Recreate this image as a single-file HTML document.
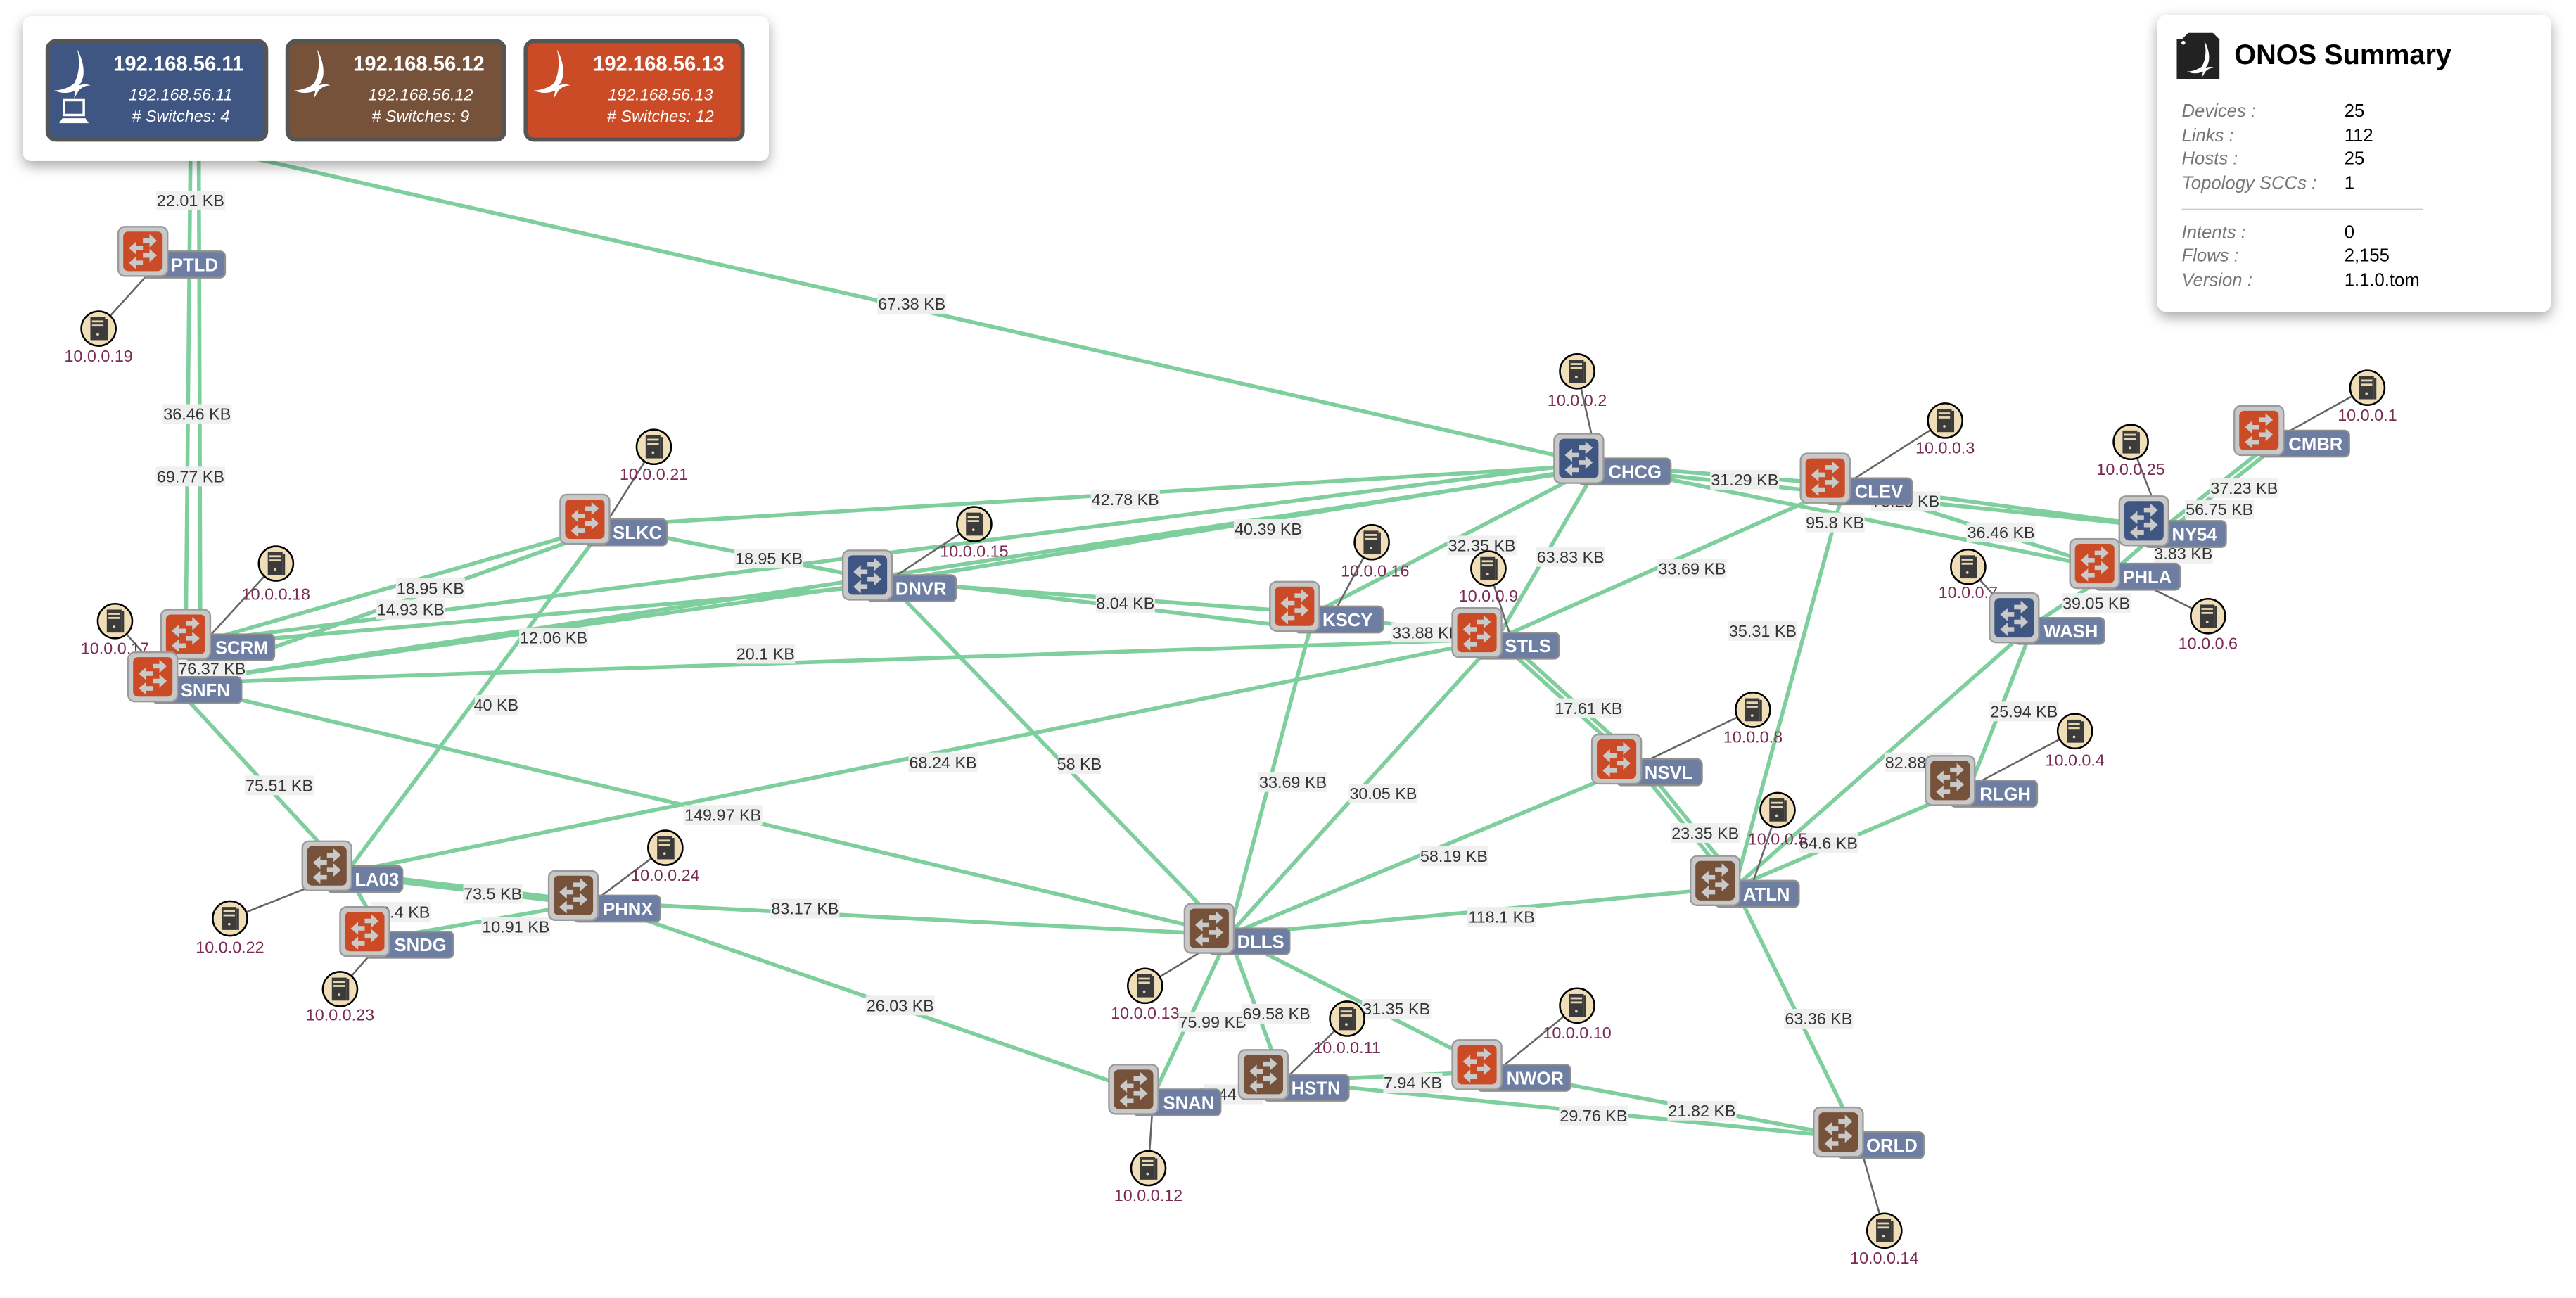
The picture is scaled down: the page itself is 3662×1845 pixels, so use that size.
<!DOCTYPE html>
<html><head><meta charset="utf-8"><style>
html,body{margin:0;padding:0;background:#fff;}
svg{display:block;}
.ll rect{fill:#efefef;opacity:.95}
.ll text{font:10px "Liberation Sans",sans-serif;fill:#333;text-anchor:middle}
.hl{font:10px "Liberation Sans",sans-serif;fill:#7b2a52;text-anchor:middle}
.nl{font:bold 11px "Liberation Sans",sans-serif;fill:#fff}
</style></head><body>
<svg width="3662" height="1845" viewBox="0 0 1568 790" preserveAspectRatio="none" xmlns="http://www.w3.org/2000/svg">
<defs>
<filter id="sh" x="-10%" y="-10%" width="130%" height="140%"><feDropShadow dx="0" dy="3" stdDeviation="4" flood-color="#000" flood-opacity=".35"/></filter>
<polygon id="ra" points="0,-1.4 4,-1.4 4,-4 8.5,0 4,4 4,1.4 0,1.4"/>
<polygon id="la" points="0,-1.4 -4,-1.4 -4,-4 -8.5,0 -4,4 -4,1.4 0,1.4"/>
<g id="arr" fill="#c9c9c9">
<use href="#ra" x="0" y="-6.5"/>
<use href="#la" x="0" y="-2"/>
<use href="#ra" x="0" y="2.5"/>
<use href="#la" x="0" y="7"/>
</g>
<g id="swO"><rect x="-15" y="-15" width="30" height="30" rx="4" fill="#c8c8c8" stroke="#9a9a9a"/><rect x="-12" y="-12" width="24" height="24" rx="3" fill="#cb4b26"/><use href="#arr"/></g>
<g id="swB"><rect x="-15" y="-15" width="30" height="30" rx="4" fill="#c8c8c8" stroke="#9a9a9a"/><rect x="-12" y="-12" width="24" height="24" rx="3" fill="#3e5681"/><use href="#arr"/></g>
<g id="swN"><rect x="-15" y="-15" width="30" height="30" rx="4" fill="#c8c8c8" stroke="#9a9a9a"/><rect x="-12" y="-12" width="24" height="24" rx="3" fill="#77523a"/><use href="#arr"/></g>
<g id="host"><circle r="10.5" fill="#f0deb9" stroke="#000" stroke-width="1.1"/><rect x="-5" y="-7" width="9" height="14" fill="#3b3b3b"/><rect x="4" y="-6" width="1.5" height="13" fill="#3b3b3b"/><rect x="-4" y="-5" width="7" height="1.2" fill="#e8d6b0"/><rect x="-4" y="-2.5" width="7" height="1.2" fill="#e8d6b0"/><circle cx="-0.5" cy="3.5" r=".8" fill="#e8d6b0"/></g>
<path id="bird" d="M1,-15 C6,-6 6,3 2,7 C5,6 7,6 9,7 C6,7 4,8 2,10 L-1,15 L0,10 C-4,12 -9,12 -13,10 C-8,10 -4,8 -1,6 C2,1 3,-7 1,-15 Z" fill="#fff"/>
</defs>

<!-- links -->
<g stroke="#7fcf9e" stroke-width="2.4" fill="none" stroke-linecap="round">
<line x1="116" y1="88" x2="113" y2="395"/>
<line x1="121" y1="88" x2="122" y2="390"/>
<line x1="118" y1="88" x2="973" y2="283"/>
<line x1="368" y1="320" x2="973" y2="283"/>
<line x1="125" y1="390" x2="973" y2="281"/>
<line x1="105" y1="416" x2="973" y2="285"/>
<line x1="540" y1="354" x2="973" y2="284"/>
<line x1="368" y1="320" x2="540" y2="354"/>
<line x1="125" y1="390" x2="368" y2="320"/>
<line x1="105" y1="416" x2="368" y2="322"/>
<line x1="105" y1="416" x2="540" y2="354"/>
<line x1="125" y1="392" x2="540" y2="356"/>
<line x1="540" y1="354" x2="800" y2="373"/>
<line x1="540" y1="352" x2="800" y2="383"/>
<line x1="800" y1="373" x2="911" y2="389"/>
<line x1="105" y1="416" x2="911" y2="389"/>
<line x1="125" y1="390" x2="105" y2="416"/>
<line x1="368" y1="320" x2="211" y2="531"/>
<line x1="105" y1="416" x2="211" y2="531"/>
<line x1="211" y1="531" x2="911" y2="389"/>
<line x1="105" y1="416" x2="748" y2="569"/>
<line x1="540" y1="354" x2="748" y2="569"/>
<line x1="800" y1="373" x2="748" y2="569"/>
<line x1="911" y1="389" x2="748" y2="569"/>
<line x1="973" y1="283" x2="911" y2="389"/>
<line x1="973" y1="283" x2="800" y2="373"/>
<line x1="973" y1="283" x2="1123" y2="295"/>
<line x1="973" y1="285" x2="1317" y2="321"/>
<line x1="911" y1="389" x2="1123" y2="295"/>
<line x1="1123" y1="295" x2="1056" y2="540"/>
<line x1="1123" y1="295" x2="1317" y2="321"/>
<line x1="973" y1="283" x2="1287" y2="347"/>
<line x1="1123" y1="295" x2="1287" y2="347"/>
<line x1="1317" y1="321" x2="1387" y2="266"/>
<line x1="1320" y1="323" x2="1390" y2="268"/>
<line x1="1317" y1="321" x2="1287" y2="347"/>
<line x1="1287" y1="347" x2="1238" y2="380"/>
<line x1="911" y1="389" x2="996" y2="466"/>
<line x1="914" y1="387" x2="999" y2="464"/>
<line x1="996" y1="466" x2="1056" y2="540"/>
<line x1="999" y1="464" x2="1059" y2="538"/>
<line x1="1238" y1="380" x2="1056" y2="540"/>
<line x1="1238" y1="380" x2="1199" y2="479"/>
<line x1="1199" y1="479" x2="1056" y2="540"/>
<line x1="996" y1="466" x2="748" y2="569"/>
<line x1="748" y1="569" x2="1056" y2="540"/>
<line x1="211" y1="531" x2="361" y2="549"/>
<line x1="211" y1="533" x2="361" y2="551"/>
<line x1="211" y1="531" x2="234" y2="571"/>
<line x1="234" y1="571" x2="361" y2="549"/>
<line x1="361" y1="549" x2="748" y2="569"/>
<line x1="361" y1="549" x2="702" y2="667"/>
<line x1="748" y1="569" x2="702" y2="667"/>
<line x1="748" y1="569" x2="781" y2="658"/>
<line x1="748" y1="569" x2="911" y2="652"/>
<line x1="781" y1="658" x2="911" y2="652"/>
<line x1="702" y1="667" x2="781" y2="658"/>
<line x1="781" y1="658" x2="1131" y2="693"/>
<line x1="911" y1="652" x2="1131" y2="693"/>
<line x1="1056" y1="540" x2="1131" y2="693"/>
</g>

<!-- host links -->
<g stroke="#666" stroke-width="1.1">
<line x1="60" y1="200" x2="99" y2="157"/>
<line x1="398" y1="272" x2="368" y2="320"/>
<line x1="168" y1="343" x2="125" y2="390"/>
<line x1="70" y1="378" x2="100" y2="412"/>
<line x1="593" y1="319" x2="540" y2="354"/>
<line x1="835" y1="330" x2="812" y2="373"/>
<line x1="906" y1="346" x2="920" y2="389"/>
<line x1="960" y1="226" x2="973" y2="283"/>
<line x1="1184" y1="256" x2="1123" y2="295"/>
<line x1="1297" y1="269" x2="1317" y2="321"/>
<line x1="1441" y1="236" x2="1387" y2="266"/>
<line x1="1198" y1="345" x2="1226" y2="376"/>
<line x1="1344" y1="375" x2="1287" y2="347"/>
<line x1="1067" y1="432" x2="996" y2="466"/>
<line x1="1263" y1="445" x2="1199" y2="479"/>
<line x1="1082" y1="493" x2="1066" y2="540"/>
<line x1="405" y1="516" x2="361" y2="549"/>
<line x1="140" y1="559" x2="211" y2="531"/>
<line x1="207" y1="602" x2="234" y2="571"/>
<line x1="697" y1="600" x2="748" y2="569"/>
<line x1="820" y1="620" x2="781" y2="658"/>
<line x1="960" y1="612" x2="911" y2="652"/>
<line x1="699" y1="711" x2="702" y2="667"/>
<line x1="1147" y1="749" x2="1131" y2="693"/>
</g>

<!-- link labels -->
<g class="ll">
<g transform="translate(116,122)"><rect x="-21" y="-6" width="42" height="12"/><text y="3.5">22.01 KB</text></g>
<g transform="translate(555,185)"><rect x="-21" y="-6" width="42" height="12"/><text y="3.5">67.38 KB</text></g>
<g transform="translate(120,252)"><rect x="-21" y="-6" width="42" height="12"/><text y="3.5">36.46 KB</text></g>
<g transform="translate(116,290)"><rect x="-21" y="-6" width="42" height="12"/><text y="3.5">69.77 KB</text></g>
<g transform="translate(685,304)"><rect x="-21" y="-6" width="42" height="12"/><text y="3.5">42.78 KB</text></g>
<g transform="translate(772,322)"><rect x="-21" y="-6" width="42" height="12"/><text y="3.5">40.39 KB</text></g>
<g transform="translate(468,340)"><rect x="-21" y="-6" width="42" height="12"/><text y="3.5">18.95 KB</text></g>
<g transform="translate(262,358)"><rect x="-21" y="-6" width="42" height="12"/><text y="3.5">18.95 KB</text></g>
<g transform="translate(250,371)"><rect x="-21" y="-6" width="42" height="12"/><text y="3.5">14.93 KB</text></g>
<g transform="translate(337,388)"><rect x="-21" y="-6" width="42" height="12"/><text y="3.5">12.06 KB</text></g>
<g transform="translate(685,367)"><rect x="-18" y="-6" width="36" height="12"/><text y="3.5">8.04 KB</text></g>
<g transform="translate(868,385)"><rect x="-21" y="-6" width="42" height="12"/><text y="3.5">33.88 KB</text></g>
<g transform="translate(466,398)"><rect x="-18" y="-6" width="36" height="12"/><text y="3.5">20.1 KB</text></g>
<g transform="translate(129,407)"><rect x="-21" y="-6" width="42" height="12"/><text y="3.5">76.37 KB</text></g>
<g transform="translate(302,429)"><rect x="-13" y="-6" width="26" height="12"/><text y="3.5">40 KB</text></g>
<g transform="translate(170,478)"><rect x="-21" y="-6" width="42" height="12"/><text y="3.5">75.51 KB</text></g>
<g transform="translate(574,464)"><rect x="-21" y="-6" width="42" height="12"/><text y="3.5">68.24 KB</text></g>
<g transform="translate(440,496)"><rect x="-24" y="-6" width="48" height="12"/><text y="3.5">149.97 KB</text></g>
<g transform="translate(657,465)"><rect x="-13" y="-6" width="26" height="12"/><text y="3.5">58 KB</text></g>
<g transform="translate(787,476)"><rect x="-21" y="-6" width="42" height="12"/><text y="3.5">33.69 KB</text></g>
<g transform="translate(842,483)"><rect x="-21" y="-6" width="42" height="12"/><text y="3.5">30.05 KB</text></g>
<g transform="translate(956,339)"><rect x="-21" y="-6" width="42" height="12"/><text y="3.5">63.83 KB</text></g>
<g transform="translate(902,332)"><rect x="-21" y="-6" width="42" height="12"/><text y="3.5">32.35 KB</text></g>
<g transform="translate(1062,292)"><rect x="-21" y="-6" width="42" height="12"/><text y="3.5">31.29 KB</text></g>
<g transform="translate(1030,346)"><rect x="-21" y="-6" width="42" height="12"/><text y="3.5">33.69 KB</text></g>
<g transform="translate(1073,384)"><rect x="-21" y="-6" width="42" height="12"/><text y="3.5">35.31 KB</text></g>
<g transform="translate(1160,305)"><rect x="-21" y="-6" width="42" height="12"/><text y="3.5">75.25 KB</text></g>
<g transform="translate(1117,318)"><rect x="-18" y="-6" width="36" height="12"/><text y="3.5">95.8 KB</text></g>
<g transform="translate(1218,324)"><rect x="-21" y="-6" width="42" height="12"/><text y="3.5">36.46 KB</text></g>
<g transform="translate(1366,297)"><rect x="-21" y="-6" width="42" height="12"/><text y="3.5">37.23 KB</text></g>
<g transform="translate(1351,310)"><rect x="-21" y="-6" width="42" height="12"/><text y="3.5">56.75 KB</text></g>
<g transform="translate(1329,337)"><rect x="-18" y="-6" width="36" height="12"/><text y="3.5">3.83 KB</text></g>
<g transform="translate(1276,367)"><rect x="-21" y="-6" width="42" height="12"/><text y="3.5">39.05 KB</text></g>
<g transform="translate(967,431)"><rect x="-21" y="-6" width="42" height="12"/><text y="3.5">17.61 KB</text></g>
<g transform="translate(1038,507)"><rect x="-21" y="-6" width="42" height="12"/><text y="3.5">23.35 KB</text></g>
<g transform="translate(1168,464)"><rect x="-21" y="-6" width="42" height="12"/><text y="3.5">82.88 KB</text></g>
<g transform="translate(1232,433)"><rect x="-21" y="-6" width="42" height="12"/><text y="3.5">25.94 KB</text></g>
<g transform="translate(1113,513)"><rect x="-18" y="-6" width="36" height="12"/><text y="3.5">64.6 KB</text></g>
<g transform="translate(885,521)"><rect x="-21" y="-6" width="42" height="12"/><text y="3.5">58.19 KB</text></g>
<g transform="translate(914,558)"><rect x="-21" y="-6" width="42" height="12"/><text y="3.5">118.1 KB</text></g>
<g transform="translate(300,544)"><rect x="-18" y="-6" width="36" height="12"/><text y="3.5">73.5 KB</text></g>
<g transform="translate(244,555)"><rect x="-18" y="-6" width="36" height="12"/><text y="3.5">10.4 KB</text></g>
<g transform="translate(314,564)"><rect x="-21" y="-6" width="42" height="12"/><text y="3.5">10.91 KB</text></g>
<g transform="translate(490,553)"><rect x="-21" y="-6" width="42" height="12"/><text y="3.5">83.17 KB</text></g>
<g transform="translate(548,612)"><rect x="-21" y="-6" width="42" height="12"/><text y="3.5">26.03 KB</text></g>
<g transform="translate(738,622)"><rect x="-21" y="-6" width="42" height="12"/><text y="3.5">75.99 KB</text></g>
<g transform="translate(777,617)"><rect x="-21" y="-6" width="42" height="12"/><text y="3.5">69.58 KB</text></g>
<g transform="translate(850,614)"><rect x="-21" y="-6" width="42" height="12"/><text y="3.5">31.35 KB</text></g>
<g transform="translate(860,659)"><rect x="-18" y="-6" width="36" height="12"/><text y="3.5">7.94 KB</text></g>
<g transform="translate(751,666)"><rect x="-18" y="-6" width="36" height="12"/><text y="3.5">3.44 KB</text></g>
<g transform="translate(970,679)"><rect x="-21" y="-6" width="42" height="12"/><text y="3.5">29.76 KB</text></g>
<g transform="translate(1036,676)"><rect x="-21" y="-6" width="42" height="12"/><text y="3.5">21.82 KB</text></g>
<g transform="translate(1107,620)"><rect x="-21" y="-6" width="42" height="12"/><text y="3.5">63.36 KB</text></g>
</g>

<!-- hosts -->
<use href="#host" x="60" y="200"/><text class="hl" x="60" y="220">10.0.0.19</text>
<use href="#host" x="398" y="272"/><text class="hl" x="398" y="292">10.0.0.21</text>
<use href="#host" x="168" y="343"/><text class="hl" x="168" y="365">10.0.0.18</text>
<use href="#host" x="70" y="378"/><text class="hl" x="70" y="398">10.0.0.17</text>
<use href="#host" x="593" y="319"/><text class="hl" x="593" y="339">10.0.0.15</text>
<use href="#host" x="835" y="330"/><text class="hl" x="837" y="351">10.0.0.16</text>
<use href="#host" x="906" y="346"/><text class="hl" x="906" y="366">10.0.0.9</text>
<use href="#host" x="960" y="226"/><text class="hl" x="960" y="247">10.0.0.2</text>
<use href="#host" x="1184" y="256"/><text class="hl" x="1184" y="276">10.0.0.3</text>
<use href="#host" x="1297" y="269"/><text class="hl" x="1297" y="289">10.0.0.25</text>
<use href="#host" x="1441" y="236"/><text class="hl" x="1441" y="256">10.0.0.1</text>
<use href="#host" x="1198" y="345"/><text class="hl" x="1198" y="364">10.0.0.7</text>
<use href="#host" x="1344" y="375"/><text class="hl" x="1344" y="395">10.0.0.6</text>
<use href="#host" x="1067" y="432"/><text class="hl" x="1067" y="452">10.0.0.8</text>
<use href="#host" x="1263" y="445"/><text class="hl" x="1263" y="466">10.0.0.4</text>
<use href="#host" x="1082" y="493"/><text class="hl" x="1082" y="514">10.0.0.5</text>
<use href="#host" x="405" y="516"/><text class="hl" x="405" y="536">10.0.0.24</text>
<use href="#host" x="140" y="559"/><text class="hl" x="140" y="580">10.0.0.22</text>
<use href="#host" x="207" y="602"/><text class="hl" x="207" y="621">10.0.0.23</text>
<use href="#host" x="697" y="600"/><text class="hl" x="697" y="620">10.0.0.13</text>
<use href="#host" x="820" y="620"/><text class="hl" x="820" y="641">10.0.0.11</text>
<use href="#host" x="960" y="612"/><text class="hl" x="960" y="632">10.0.0.10</text>
<use href="#host" x="699" y="711"/><text class="hl" x="699" y="731">10.0.0.12</text>
<use href="#host" x="1147" y="749"/><text class="hl" x="1147" y="769">10.0.0.14</text>

<!-- switches -->
<g id="nodes">
<g transform="translate(87,153)"><rect x="0" y="0" width="50" height="16" rx="3" fill="#6e7ea3" stroke="#8f8f8f"/><text class="nl" x="17" y="12">PTLD</text><use href="#swO"/></g>
<g transform="translate(356,316)"><rect x="0" y="0" width="50" height="16" rx="3" fill="#6e7ea3" stroke="#8f8f8f"/><text class="nl" x="17" y="12">SLKC</text><use href="#swO"/></g>
<g transform="translate(113,386)"><rect x="0" y="0" width="54" height="16" rx="3" fill="#6e7ea3" stroke="#8f8f8f"/><text class="nl" x="18" y="12">SCRM</text><use href="#swO"/></g>
<g transform="translate(93,412)"><rect x="0" y="0" width="54" height="16" rx="3" fill="#6e7ea3" stroke="#8f8f8f"/><text class="nl" x="17" y="12">SNFN</text><use href="#swO"/></g>
<g transform="translate(528,350)"><rect x="0" y="0" width="54" height="16" rx="3" fill="#6e7ea3" stroke="#8f8f8f"/><text class="nl" x="17" y="12">DNVR</text><use href="#swB"/></g>
<g transform="translate(788,369)"><rect x="0" y="0" width="54" height="16" rx="3" fill="#6e7ea3" stroke="#8f8f8f"/><text class="nl" x="17" y="12">KSCY</text><use href="#swO"/></g>
<g transform="translate(961,279)"><rect x="0" y="0" width="56" height="16" rx="3" fill="#6e7ea3" stroke="#8f8f8f"/><text class="nl" x="18" y="12">CHCG</text><use href="#swB"/></g>
<g transform="translate(1111,291)"><rect x="0" y="0" width="53" height="16" rx="3" fill="#6e7ea3" stroke="#8f8f8f"/><text class="nl" x="18" y="12">CLEV</text><use href="#swO"/></g>
<g transform="translate(899,385)"><rect x="0" y="0" width="50" height="16" rx="3" fill="#6e7ea3" stroke="#8f8f8f"/><text class="nl" x="17" y="12">STLS</text><use href="#swO"/></g>
<g transform="translate(984,462)"><rect x="0" y="0" width="52" height="16" rx="3" fill="#6e7ea3" stroke="#8f8f8f"/><text class="nl" x="17" y="12">NSVL</text><use href="#swO"/></g>
<g transform="translate(1375,262)"><rect x="0" y="0" width="55" height="16" rx="3" fill="#6e7ea3" stroke="#8f8f8f"/><text class="nl" x="18" y="12">CMBR</text><use href="#swO"/></g>
<g transform="translate(1305,317)"><rect x="0" y="0" width="50" height="16" rx="3" fill="#6e7ea3" stroke="#8f8f8f"/><text class="nl" x="17" y="12">NY54</text><use href="#swB"/></g>
<g transform="translate(1275,343)"><rect x="0" y="0" width="52" height="16" rx="3" fill="#6e7ea3" stroke="#8f8f8f"/><text class="nl" x="17" y="12">PHLA</text><use href="#swO"/></g>
<g transform="translate(1226,376)"><rect x="0" y="0" width="55" height="16" rx="3" fill="#6e7ea3" stroke="#8f8f8f"/><text class="nl" x="18" y="12">WASH</text><use href="#swB"/></g>
<g transform="translate(1187,475)"><rect x="0" y="0" width="53" height="16" rx="3" fill="#6e7ea3" stroke="#8f8f8f"/><text class="nl" x="18" y="12">RLGH</text><use href="#swN"/></g>
<g transform="translate(1044,536)"><rect x="0" y="0" width="51" height="16" rx="3" fill="#6e7ea3" stroke="#8f8f8f"/><text class="nl" x="17" y="12">ATLN</text><use href="#swN"/></g>
<g transform="translate(736,565)"><rect x="0" y="0" width="49" height="16" rx="3" fill="#6e7ea3" stroke="#8f8f8f"/><text class="nl" x="17" y="12">DLLS</text><use href="#swN"/></g>
<g transform="translate(199,527)"><rect x="0" y="0" width="46" height="16" rx="3" fill="#6e7ea3" stroke="#8f8f8f"/><text class="nl" x="17" y="12">LA03</text><use href="#swN"/></g>
<g transform="translate(222,567)"><rect x="0" y="0" width="54" height="16" rx="3" fill="#6e7ea3" stroke="#8f8f8f"/><text class="nl" x="18" y="12">SNDG</text><use href="#swO"/></g>
<g transform="translate(349,545)"><rect x="0" y="0" width="53" height="16" rx="3" fill="#6e7ea3" stroke="#8f8f8f"/><text class="nl" x="18" y="12">PHNX</text><use href="#swN"/></g>
<g transform="translate(690,663)"><rect x="0" y="0" width="53" height="16" rx="3" fill="#6e7ea3" stroke="#8f8f8f"/><text class="nl" x="18" y="12">SNAN</text><use href="#swN"/></g>
<g transform="translate(769,654)"><rect x="0" y="0" width="52" height="16" rx="3" fill="#6e7ea3" stroke="#8f8f8f"/><text class="nl" x="17" y="12">HSTN</text><use href="#swN"/></g>
<g transform="translate(899,648)"><rect x="0" y="0" width="57" height="16" rx="3" fill="#6e7ea3" stroke="#8f8f8f"/><text class="nl" x="18" y="12">NWOR</text><use href="#swO"/></g>
<g transform="translate(1119,689)"><rect x="0" y="0" width="52" height="16" rx="3" fill="#6e7ea3" stroke="#8f8f8f"/><text class="nl" x="17" y="12">ORLD</text><use href="#swN"/></g>
</g>

<!-- instance panel -->
<rect x="14" y="10" width="454" height="88" rx="5" fill="#fff" filter="url(#sh)"/>
<rect x="29" y="25" width="133" height="60" rx="5" fill="#3e5681" stroke="#555" stroke-width="2.5"/>
<rect x="175" y="25" width="132" height="60" rx="5" fill="#77523a" stroke="#555" stroke-width="2.5"/>
<rect x="320" y="25" width="132" height="60" rx="5" fill="#cb4b26" stroke="#555" stroke-width="2.5"/>
<use href="#bird" x="46" y="45"/>
<use href="#bird" x="192" y="45"/>
<use href="#bird" x="338" y="45"/>
<g fill="#fff" font-family="Liberation Sans, sans-serif">
<text x="69" y="43" font-size="12.5" font-weight="bold">192.168.56.11</text>
<text x="110" y="61" font-size="10" font-style="italic" text-anchor="middle">192.168.56.11</text>
<text x="110" y="74" font-size="10" font-style="italic" text-anchor="middle"># Switches: 4</text>
<text x="215" y="43" font-size="12.5" font-weight="bold">192.168.56.12</text>
<text x="256" y="61" font-size="10" font-style="italic" text-anchor="middle">192.168.56.12</text>
<text x="256" y="74" font-size="10" font-style="italic" text-anchor="middle"># Switches: 9</text>
<text x="361" y="43" font-size="12.5" font-weight="bold">192.168.56.13</text>
<text x="402" y="61" font-size="10" font-style="italic" text-anchor="middle">192.168.56.13</text>
<text x="402" y="74" font-size="10" font-style="italic" text-anchor="middle"># Switches: 12</text>
</g>
<rect x="39" y="61" width="12" height="9" fill="none" stroke="#fff" stroke-width="1.5"/>
<polygon points="36,75 54,75 52,72 38,72" fill="#fff"/>

<!-- summary panel -->
<rect x="1313" y="9" width="240" height="181" rx="6" fill="#fff" filter="url(#sh)"/>
<path d="M1328,24 L1332,20 L1347,20 L1351,24 L1351,48 L1325,48 L1325,24 Z" fill="#222"/>
<circle cx="1329" cy="26" r="1.2" fill="#fff"/>
<use href="#bird" x="1341" y="36" transform="translate(1341,36) scale(0.75) translate(-1341,-36)"/>
<text x="1360" y="39" font-family="Liberation Sans, sans-serif" font-size="17" font-weight="bold" fill="#000">ONOS Summary</text>
<g font-family="Liberation Sans, sans-serif" font-size="11">
<g fill="#777" font-style="italic">
<text x="1328" y="71">Devices :</text><text x="1328" y="86">Links :</text><text x="1328" y="100">Hosts :</text><text x="1328" y="115">Topology SCCs :</text>
<text x="1328" y="145">Intents :</text><text x="1328" y="159">Flows :</text><text x="1328" y="174">Version :</text>
</g>
<g fill="#000">
<text x="1427" y="71">25</text><text x="1427" y="86">112</text><text x="1427" y="100">25</text><text x="1427" y="115">1</text>
<text x="1427" y="145">0</text><text x="1427" y="159">2,155</text><text x="1427" y="174">1.1.0.tom</text>
</g>
</g>
<line x1="1328" y1="127.5" x2="1475" y2="127.5" stroke="#ccc" stroke-width="1"/>
</svg>
</body></html>
